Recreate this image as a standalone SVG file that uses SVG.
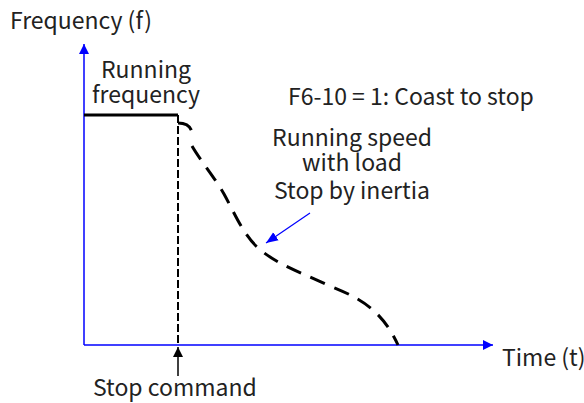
<svg xmlns="http://www.w3.org/2000/svg" width="584" height="403" viewBox="0 0 584 403">
<style>
text{font-family:"Noto Sans CJK SC","Noto Sans",sans-serif;font-size:23px;fill:#222}
.ax{stroke:#0000ff;stroke-width:1.5;fill:none}
.dash{stroke:#000;fill:none;stroke-width:3}
</style>
<defs>
<marker id="ab" viewBox="0 0 10 10" refX="10" refY="5" markerWidth="10" markerHeight="10" markerUnits="userSpaceOnUse" orient="auto"><path d="M0,0 L10,5 L0,10 Z" fill="#0000ff"/></marker>
<marker id="ak" viewBox="0 0 10 10" refX="10" refY="5" markerWidth="10" markerHeight="10" markerUnits="userSpaceOnUse" orient="auto"><path d="M0,0 L10,5 L0,10 Z" fill="#000"/></marker>
<marker id="ab2" viewBox="0 0 10 10" refX="10" refY="5" markerWidth="12" markerHeight="12" markerUnits="userSpaceOnUse" orient="auto"><path d="M0,1 L10,5 L0,9 Z" fill="#0000ff"/></marker>
</defs>
<g id="connectors">
<line class="ax" x1="84" y1="345" x2="84" y2="44" marker-end="url(#ab)"/>
<line class="ax" x1="84" y1="345" x2="493" y2="345" marker-end="url(#ab)"/>
<line x1="84" y1="115" x2="178" y2="115" stroke="#000" stroke-width="3"/>
<line x1="178" y1="115" x2="178" y2="345" stroke="#000" stroke-width="2" stroke-dasharray="8 3"/>
<line x1="178" y1="376" x2="178" y2="347" stroke="#000" stroke-width="1.5" marker-end="url(#ak)"/>
<path class="dash" d="M178,123 C186,123 192,127 192,134 M192,146 C200,160 215,178 224,194 C234,212 242,232 256,246 C275,264 300,272 330,286 C360,298 382,310 398,345" stroke-dasharray="16 10"/>
<line x1="310" y1="213" x2="266" y2="243" stroke="#0000ff" stroke-width="1.2" marker-end="url(#ab2)"/>
</g>
<g id="labels">
<text x="10" y="29">Frequency (f)</text>
<text x="146" y="78" text-anchor="middle">Running</text>
<text x="146" y="103" text-anchor="middle">frequency</text>
<text x="288" y="105">F6-10 = 1: Coast to stop</text>
<text x="352" y="146" text-anchor="middle">Running speed</text>
<text x="352" y="171" text-anchor="middle">with load</text>
<text x="352" y="199" text-anchor="middle">Stop by inertia</text>
<text x="502" y="366">Time (t)</text>
<text x="93" y="396">Stop command</text>
</g>
</svg>
